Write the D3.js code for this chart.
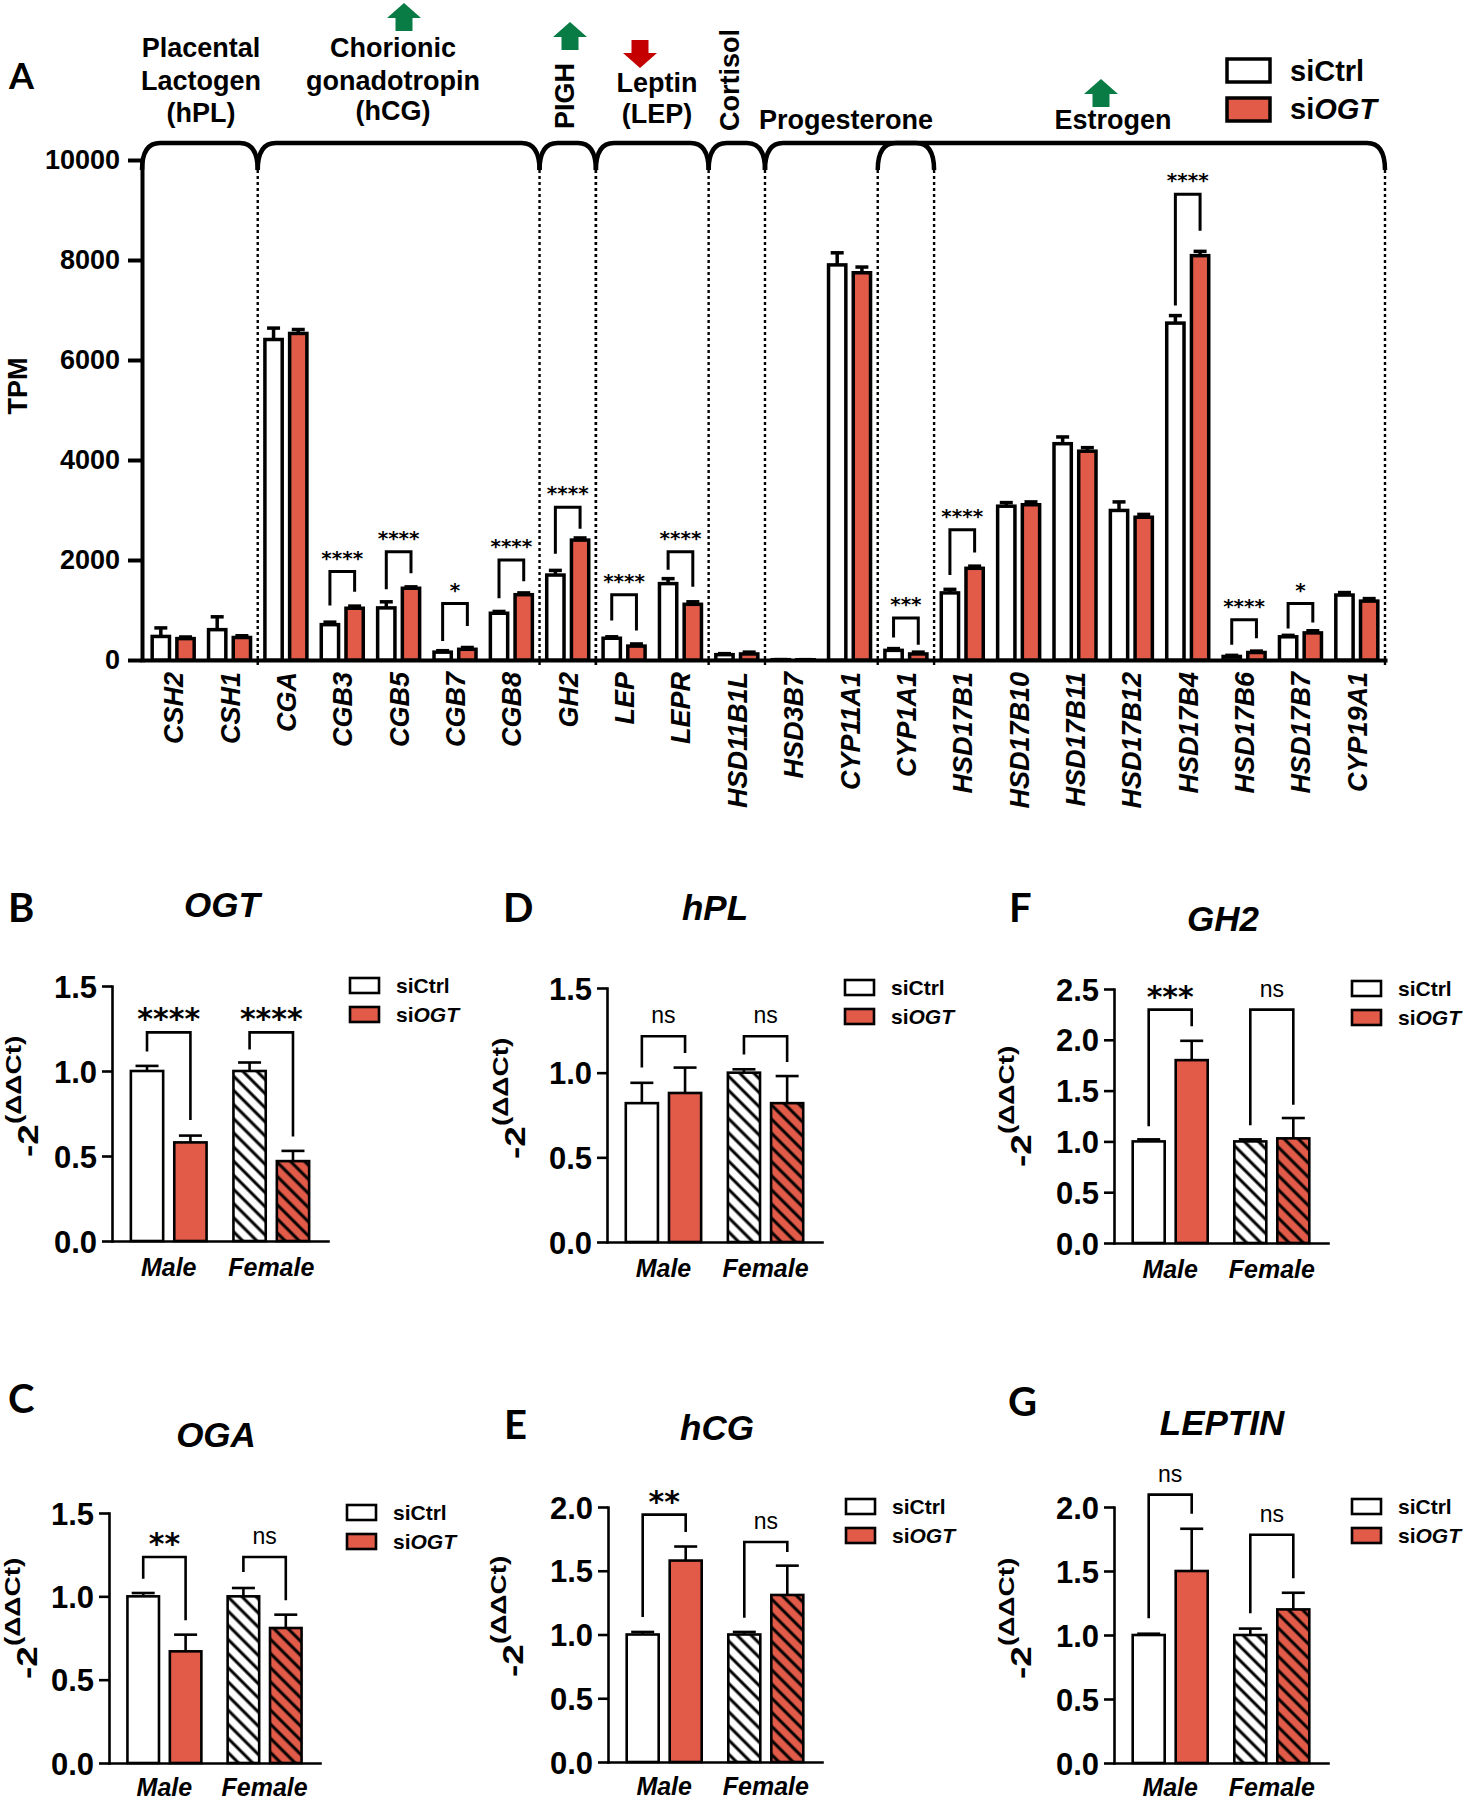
<!DOCTYPE html>
<html>
<head>
<meta charset="utf-8">
<script src="https://cdn.jsdelivr.net/npm/d3@7/dist/d3.min.js"></script>
<style>
body{margin:0;background:#fff;}
svg{display:block;}
</style>
</head>
<body>
<svg id="fig" width="1465" height="1800" xmlns="http://www.w3.org/2000/svg"></svg>
<script>
// ================= DATA =================
// Panel A: RNA-seq TPM
const genes = ["CSH2","CSH1","CGA","CGB3","CGB5","CGB7","CGB8","GH2","LEP","LEPR","HSD11B1L","HSD3B7","CYP11A1","CYP1A1","HSD17B1","HSD17B10","HSD17B11","HSD17B12","HSD17B4","HSD17B6","HSD17B7","CYP19A1"];
const conditions = ["siCtrl","siOGT"];
const tpmCtrl    = [471,607,6410,707,1042,157,935,1699,435,1528,107,6,7902,193,1342,3076,4326,2991,6738,71,464,1299];
const tpmCtrlErr = [171,257,228,50,122,29,36,93,29,99,20,2,242,35,71,72,135,171,150,22,29,50];
const tpmOgt     = [428,450,6531,1035,1435,214,1306,2398,278,1114,121,5,7745,121,1834,3105,4176,2855,8087,150,542,1178];
const tpmOgtErr  = [32,35,79,43,28,36,36,43,43,50,36,2,114,36,43,57,71,57,86,28,43,50];
const tpmTicks = [0,2000,4000,6000,8000,10000];

// Panel A significance brackets (TPM levels)
const sigGenes  = ["CGB3","CGB5","CGB7","CGB8","GH2","LEP","LEPR","CYP1A1","HSD17B1","HSD17B4","HSD17B6","HSD17B7"];
const sigLabels = ["****","****","*","****","****","****","****","***","****","****","****","*"];
const sigTop    = [1770,2163,1128,1999,3055,1306,2163,842,2605,9315,807,1128];
const sigLeft   = [1092,1413,378,1235,2127,792,1806,450,1699,7088,307,628];
const sigRight  = [1363,1734,678,1577,2627,592,1463,307,2149,8587,435,749];

// Panel A hormone groups (braces)
const braceStart = ["CSH2","CGA","GH2","LEP","HSD11B1L","HSD3B7","CYP1A1"];
const braceEnd   = ["CSH1","CGB8","GH2","LEPR","HSD11B1L","CYP19A1","CYP1A1"];
const headerText = [["Placental","Lactogen","(hPL)"],["Chorionic","gonadotropin","(hCG)"],["PIGH"],["Leptin","(LEP)"],["Cortisol"],["Progesterone"],["Estrogen"]];
const headerArrow = [null,"up","up","down",null,null,"up"];

// Panels B-G: qPCR, order [Male siCtrl, Male siOGT, Female siCtrl, Female siOGT]
const sexes = ["Male","Female"];
const qGenes = ["OGT","OGA","hPL","hCG","GH2","LEPTIN"];
const ogtMean    = [1.00,0.58,1.00,0.47]; const ogtErr    = [0.03,0.04,0.05,0.06];
const ogaMean    = [1.00,0.67,1.00,0.81]; const ogaErr    = [0.02,0.10,0.05,0.08];
const hplMean    = [0.82,0.88,1.00,0.82]; const hplErr    = [0.12,0.15,0.02,0.16];
const hcgMean    = [1.00,1.58,1.00,1.31]; const hcgErr    = [0.02,0.11,0.02,0.23];
const gh2Mean    = [1.00,1.80,1.00,1.03]; const gh2Err    = [0.02,0.19,0.02,0.20];
const leptinMean = [1.00,1.50,1.00,1.20]; const leptinErr = [0.01,0.33,0.05,0.13];
const qMax = [1.5,1.5,1.5,2.0,2.5,2.0];
// brackets per sex: [label, top, leftLegEnd, rightLegEnd]
const ogtSig    = [["****",1.227,1.114,0.712],["****",1.227,1.127,0.614]];
const ogaSig    = [["**",1.236,1.106,0.856],["ns",1.236,1.146,0.976]];
const hplSig    = [["ns",1.215,1.03,1.116],["ns",1.215,1.108,1.063]];
const hcgSig    = [["**",1.94,1.137,1.804],["ns",1.725,1.132,1.647]];
const gh2Sig    = [["***",2.297,1.148,2.133],["ns",2.297,1.158,1.36]];
const leptinSig = [["ns",2.097,1.13,1.948],["ns",1.783,1.17,1.444]];

// ================= STYLE =================
const FONT = "'Liberation Sans', Arial, Helvetica, sans-serif";
const LETTER_FONT = "Lato, 'Open Sans', sans-serif";
const STAR_FONT = "'DejaVu Sans', sans-serif";
const RED = "#e25b49";
const GREEN = "#087c44";
const DARKRED = "#c40000";

const svg = d3.select("#fig");
svg.append("rect").attr("width",1465).attr("height",1800).attr("fill","#fff");
const defs = svg.append("defs");
function hatch(id, bg){
  const p = defs.append("pattern").attr("id",id).attr("patternUnits","userSpaceOnUse")
    .attr("width",10).attr("height",10).attr("patternTransform","rotate(-45)");
  p.append("rect").attr("width",10).attr("height",10).attr("fill",bg);
  p.append("line").attr("x1",5).attr("y1",-1).attr("x2",5).attr("y2",11).attr("stroke","#000").attr("stroke-width",3);
}
hatch("hatchW","#fff"); hatch("hatchR",RED);

function txt(g, x, y, s, size, opts={}){
  const t = g.append("text").attr("x",x).attr("y",y).attr("font-family",opts.family||FONT)
    .attr("font-size",size).attr("font-weight",opts.weight||"bold").attr("fill",opts.fill||"#000")
    .attr("text-anchor",opts.anchor||"start");
  if(opts.italic) t.attr("font-style","italic");
  t.text(s);
  return t;
}

// ================= PANEL A =================
const A = svg.append("g");
const xA = d3.scaleBand().domain(genes).range([145,1385]);
const yA = d3.scaleLinear().domain([0,10000]).range([660,160]);
const subA = d3.scaleBand().domain(conditions).range([-21,21]).paddingInner(0.3);
const cA = g => xA(g) + xA.bandwidth()/2;

txt(A, 9, 89, "A", 36, {family:LETTER_FONT});

// y axis
const yAx = A.append("g").attr("transform","translate(142,0)")
  .call(d3.axisLeft(yA).tickValues(tpmTicks).tickFormat(d3.format("d")).tickSize(14).tickPadding(8).tickSizeOuter(0));
yAx.select(".domain").attr("stroke","#000").attr("stroke-width",4).attr("stroke-linecap","square");
yAx.selectAll(".tick line").attr("stroke","#000").attr("stroke-width",4);
yAx.selectAll(".tick text").attr("font-family",FONT).attr("font-size",27).attr("font-weight","bold").attr("fill","#000");
A.append("text").attr("transform","translate(27,386) rotate(-90)").attr("text-anchor","middle")
  .attr("font-family",FONT).attr("font-size",27).attr("font-weight","bold").text("TPM");

// x axis
const xAx = A.append("g").attr("transform","translate(0,660)")
  .call(d3.axisBottom(xA).tickSize(0).tickSizeOuter(0));
xAx.select(".domain").attr("stroke","#000").attr("stroke-width",4).attr("stroke-linecap","square");
xAx.selectAll(".tick text").attr("transform","rotate(-90)").attr("text-anchor","end")
  .attr("x",-12).attr("y",10).attr("dy",null)
  .attr("font-family",FONT).attr("font-size",27).attr("font-weight","bold").attr("font-style","italic").attr("fill","#000");

// bars
const rowsA = [];
genes.forEach((g,i)=>{
  rowsA.push({g, c:"siCtrl", v:tpmCtrl[i], e:tpmCtrlErr[i]});
  rowsA.push({g, c:"siOGT", v:tpmOgt[i], e:tpmOgtErr[i]});
});
const barA = A.append("g");
barA.selectAll("rect").data(rowsA).join("rect")
  .attr("x", d=>cA(d.g)+subA(d.c)).attr("width", subA.bandwidth())
  .attr("y", d=>yA(d.v)).attr("height", d=>yA(0)-yA(d.v))
  .attr("fill", d=>d.c==="siCtrl"?"#fff":RED).attr("stroke","#000").attr("stroke-width",3.5);
const errA = A.append("g").attr("stroke","#000").attr("stroke-width",3.5);
rowsA.forEach(d=>{
  const x = cA(d.g)+subA(d.c)+subA.bandwidth()/2;
  errA.append("line").attr("x1",x).attr("x2",x).attr("y1",yA(d.v)).attr("y2",yA(d.v+d.e));
  errA.append("line").attr("x1",x-6.5).attr("x2",x+6.5).attr("y1",yA(d.v+d.e)).attr("y2",yA(d.v+d.e));
});

// significance brackets A
const sigA = A.append("g");
sigGenes.forEach((g,i)=>{
  const xl = cA(g)+subA("siCtrl")+subA.bandwidth()/2;
  const xr = cA(g)+subA("siOGT")+subA.bandwidth()/2;
  sigA.append("path").attr("d",`M${xl},${yA(sigLeft[i])}V${yA(sigTop[i])}H${xr}V${yA(sigRight[i])}`)
    .attr("fill","none").attr("stroke","#000").attr("stroke-width",3);
  txt(sigA,(xl+xr)/2,yA(sigTop[i])-7,sigLabels[i],20,{family:STAR_FONT,anchor:"middle"});
});

// braces
const braceTopY = 143, braceLowY = 170;
const brace = A.append("g").attr("fill","none").attr("stroke","#000").attr("stroke-width",4.5);
const boundaries = new Set();
braceStart.forEach((s,i)=>{
  const a = i===0 ? 142 : xA(s);
  const b = xA(braceEnd[i]) + xA.bandwidth();
  const r = 18;
  brace.append("path").attr("d",`M${a},${braceLowY}Q${a},${braceTopY} ${a+r},${braceTopY}L${b-r},${braceTopY}Q${b},${braceTopY} ${b},${braceLowY}`);
  if(i>0) boundaries.add(a);
  boundaries.add(b);
});
const dots = A.append("g").attr("stroke","#000").attr("stroke-width",2.4).attr("stroke-dasharray","3,3");
[...boundaries].forEach(x=>{
  dots.append("line").attr("x1",x).attr("x2",x).attr("y1",braceLowY).attr("y2",667);
});

// header labels and arrows
const headerLayout = [
  {x:201, ys:[57,90,122]},
  {x:393, ys:[57,90,120], ax:404, ay:3},
  {x:574, y:129, rot:true, ax:570, ay:22},
  {x:657, ys:[92,123], ax:640, ay:40},
  {x:739, y:131, rot:true},
  {x:846, ys:[129]},
  {x:1113, ys:[129], ax:1101, ay:79}
];
function arrowPath(cx, y0, dir){
  const h=28, hh=15, hw=17, sw=8.5;
  if(dir==="up") return `M${cx},${y0}L${cx+hw},${y0+hh}L${cx+sw},${y0+hh}L${cx+sw},${y0+h}L${cx-sw},${y0+h}L${cx-sw},${y0+hh}L${cx-hw},${y0+hh}Z`;
  return `M${cx},${y0+h}L${cx+hw},${y0+h-hh}L${cx+sw},${y0+h-hh}L${cx+sw},${y0}L${cx-sw},${y0}L${cx-sw},${y0+h-hh}L${cx-hw},${y0+h-hh}Z`;
}
const hdr = A.append("g");
headerText.forEach((lines,i)=>{
  const L = headerLayout[i];
  if(L.rot){
    hdr.append("text").attr("transform",`translate(${L.x},${L.y}) rotate(-90)`)
      .attr("font-family",FONT).attr("font-size",27).attr("font-weight","bold").text(lines[0]);
  } else {
    lines.forEach((s,j)=> txt(hdr, L.x, L.ys[j], s, 27, {anchor:"middle"}));
  }
  if(headerArrow[i]){
    hdr.append("path").attr("d",arrowPath(L.ax,L.ay,headerArrow[i]))
      .attr("fill", headerArrow[i]==="up"?GREEN:DARKRED);
  }
});

// legend A
const legA = A.append("g");
conditions.forEach((c,i)=>{
  legA.append("rect").attr("x",1227).attr("y",59+i*39).attr("width",43).attr("height",23)
    .attr("fill", i===0?"#fff":RED).attr("stroke","#000").attr("stroke-width",3.5);
  const t = txt(legA, 1290, 81+i*38, "si", 29);
  t.append("tspan").attr("font-style", i===0?"normal":"italic").text(c.slice(2));
});

// ================= PANELS B-G =================
const qMeans = [ogtMean, ogaMean, hplMean, hcgMean, gh2Mean, leptinMean];
const qErrs  = [ogtErr, ogaErr, hplErr, hcgErr, gh2Err, leptinErr];
const qSigs  = [ogtSig, ogaSig, hplSig, hcgSig, gh2Sig, leptinSig];
const qLayout = [
  {letter:"B", lx:8,    ly:922,  ax:112,  y0:1241, yTop:986,  w:216, tx:222,  ty:917,  labX:38,   labY:1157, catY:35},
  {letter:"C", lx:8,    ly:1413, ax:109,  y0:1763, yTop:1513, w:211, tx:216,  ty:1447, labX:37,   labY:1679, catY:33},
  {letter:"D", lx:503,  ly:922,  ax:607,  y0:1242, yTop:988,  w:215, tx:715,  ty:920,  labX:525,  labY:1159, catY:35},
  {letter:"E", lx:504,  ly:1439, ax:608,  y0:1762, yTop:1507, w:214, tx:717,  ty:1440, labX:523,  labY:1677, catY:33},
  {letter:"F", lx:1009, ly:922,  ax:1114, y0:1243, yTop:989,  w:214, tx:1223, ty:931,  labX:1031, labY:1167, catY:35},
  {letter:"G", lx:1008, ly:1416, ax:1114, y0:1763, yTop:1507, w:214, tx:1222, ty:1435, labX:1031, labY:1679, catY:33}
];

qGenes.forEach((gene,pi)=>{
  const L = qLayout[pi];
  const root = svg.append("g");
  txt(root, L.lx, L.ly, L.letter, 40, {family:LETTER_FONT});
  txt(root, L.tx, L.ty, gene, 35, {italic:true, anchor:"middle"});
  const yl = root.append("text").attr("transform",`translate(${L.labX},${L.labY}) rotate(-90) scale(1,0.82)`)
    .attr("font-family",FONT).attr("font-weight","bold");
  yl.append("tspan").attr("font-size",37).text("-2");
  yl.append("tspan").attr("font-size",28).attr("dy",-21).text("(ΔΔCt)");

  const g = root.append("g").attr("transform",`translate(${L.ax},0)`);
  const y = d3.scaleLinear().domain([0,qMax[pi]]).range([L.y0,L.yTop]);
  const x = d3.scaleBand().domain(sexes).range([0,L.w]).paddingInner(0.262).paddingOuter(0.184);
  const sub = d3.scaleBand().domain(conditions).range([0,x.bandwidth()]).paddingInner(0.256);

  const ya = g.append("g").call(d3.axisLeft(y).tickValues(d3.range(0,qMax[pi]+0.001,0.5))
      .tickFormat(d3.format(".1f")).tickSize(10).tickPadding(5).tickSizeOuter(0));
  ya.select(".domain").attr("stroke","#000").attr("stroke-width",2.6).attr("stroke-linecap","square");
  ya.selectAll(".tick line").attr("stroke","#000").attr("stroke-width",2.6);
  ya.selectAll(".tick text").attr("font-family",FONT).attr("font-size",31).attr("font-weight","bold")
    .attr("fill","#000").attr("dy","0.36em");

  const xa = g.append("g").attr("transform",`translate(0,${L.y0})`)
    .call(d3.axisBottom(x).tickSize(0).tickSizeOuter(0));
  xa.select(".domain").attr("stroke","#000").attr("stroke-width",2.6).attr("stroke-linecap","square");
  xa.selectAll(".tick text").attr("y",L.catY).attr("dy",null).attr("font-family",FONT).attr("font-size",25)
    .attr("font-weight","bold").attr("font-style","italic").attr("fill","#000");

  const rows = [];
  sexes.forEach((s,si)=>conditions.forEach((c,ci)=>{
    const k = si*2+ci;
    rows.push({s,c,v:qMeans[pi][k],e:qErrs[pi][k]});
  }));
  const fillOf = d => d.s==="Male" ? (d.c==="siCtrl"?"#fff":RED) : (d.c==="siCtrl"?"url(#hatchW)":"url(#hatchR)");
  g.append("g").selectAll("rect").data(rows).join("rect")
    .attr("x",d=>x(d.s)+sub(d.c)).attr("width",sub.bandwidth())
    .attr("y",d=>y(d.v)).attr("height",d=>y(0)-y(d.v))
    .attr("fill",fillOf).attr("stroke","#000").attr("stroke-width",2.6);
  const eg = g.append("g").attr("stroke","#000").attr("stroke-width",2.6);
  rows.forEach(d=>{
    const cx = x(d.s)+sub(d.c)+sub.bandwidth()/2;
    eg.append("line").attr("x1",cx).attr("x2",cx).attr("y1",y(d.v)).attr("y2",y(d.v+d.e));
    eg.append("line").attr("x1",cx-11.5).attr("x2",cx+11.5).attr("y1",y(d.v+d.e)).attr("y2",y(d.v+d.e));
  });

  const sg = g.append("g");
  sexes.forEach((s,si)=>{
    const [lab, top, le, re] = qSigs[pi][si];
    const xl = x(s)+sub("siCtrl")+sub.bandwidth()/2;
    const xr = x(s)+sub("siOGT")+sub.bandwidth()/2;
    sg.append("path").attr("d",`M${xl},${y(le)}V${y(top)}H${xr}V${y(re)}`)
      .attr("fill","none").attr("stroke","#000").attr("stroke-width",2.6);
    if(lab==="ns") txt(sg,(xl+xr)/2,y(top)-13,lab,23,{weight:"normal",anchor:"middle"});
    else txt(sg,(xl+xr)/2,y(top)-3,lab,30,{family:STAR_FONT,anchor:"middle"});
  });

  const lg = g.append("g");
  conditions.forEach((c,i)=>{
    const top = L.yTop - 8 + i*29;
    lg.append("rect").attr("x",238).attr("y",top).attr("width",29).attr("height",15)
      .attr("fill", i===0?"#fff":RED).attr("stroke","#000").attr("stroke-width",2.6);
    const t = txt(lg, 284, top+15, "si", 21);
    t.append("tspan").attr("font-style", i===0?"normal":"italic").text(c.slice(2));
  });
});
</script>
</body>
</html>
